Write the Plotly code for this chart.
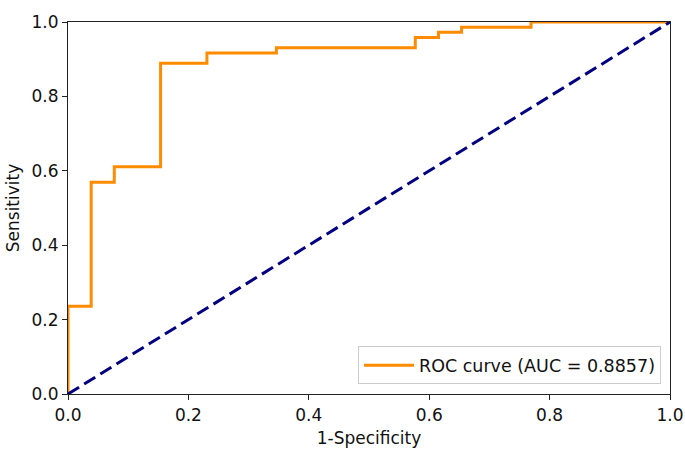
import plotly.graph_objects as go

# ROC curve points (steps at multiples of 1/26 and 1/72)
fpr = [0.0, 0.0, 0.0385, 0.0769, 0.1538, 0.2308, 0.3462, 0.5769, 0.6154, 0.6538, 0.7692, 1.0]
tpr = [0.0, 0.2361, 0.5694, 0.6111, 0.8889, 0.9167, 0.9306, 0.9583, 0.9722, 0.9861, 1.0, 1.0]
auc_label = "ROC curve (AUC = 0.8857)"
chance_x = [0.0, 1.0]
chance_y = [0.0, 1.0]
ticks = [0.0, 0.2, 0.4, 0.6, 0.8, 1.0]
tick_text = ["0.0", "0.2", "0.4", "0.6", "0.8", "1.0"]

fig = go.Figure()
fig.add_trace(go.Scatter(x=fpr, y=tpr, mode="lines", line_shape="hv",
                         line=dict(color="darkorange", width=3), name=auc_label))
fig.add_trace(go.Scatter(x=chance_x, y=chance_y, mode="lines",
                         line=dict(color="navy", width=3, dash="13px,6px"),
                         showlegend=False))

font = dict(family="DejaVu Sans", size=17, color="#111")
legend_font = dict(family="DejaVu Sans", size=17.5, color="#111")
axis_common = dict(range=[0, 1.0], tickvals=ticks, ticktext=tick_text,
                   showline=True, linecolor="#222", linewidth=1.2, mirror=True,
                   ticks="outside", ticklen=5, tickcolor="#222", tickwidth=1.2,
                   showgrid=False, zeroline=False, tickfont=font, automargin=False)
fig.update_xaxes(**axis_common, title=dict(text="1-Specificity", font=font, standoff=8))
fig.update_yaxes(**axis_common, title=dict(text="Sensitivity", font=font, standoff=7))

fig.update_layout(
    width=685, height=452,
    margin=dict(l=68, r=15, t=22, b=58),
    plot_bgcolor="white", paper_bgcolor="white",
    font=font,
    legend=dict(x=0.985, y=0.026, xanchor="right", yanchor="bottom",
                bgcolor="rgba(255,255,255,0.8)", bordercolor="#cccccc", borderwidth=1,
                font=legend_font, itemwidth=50),
)
fig.write_html("out.html", config={"displayModeBar": False},
               post_script="document.body.style.margin='0';document.body.style.overflow='hidden';")
